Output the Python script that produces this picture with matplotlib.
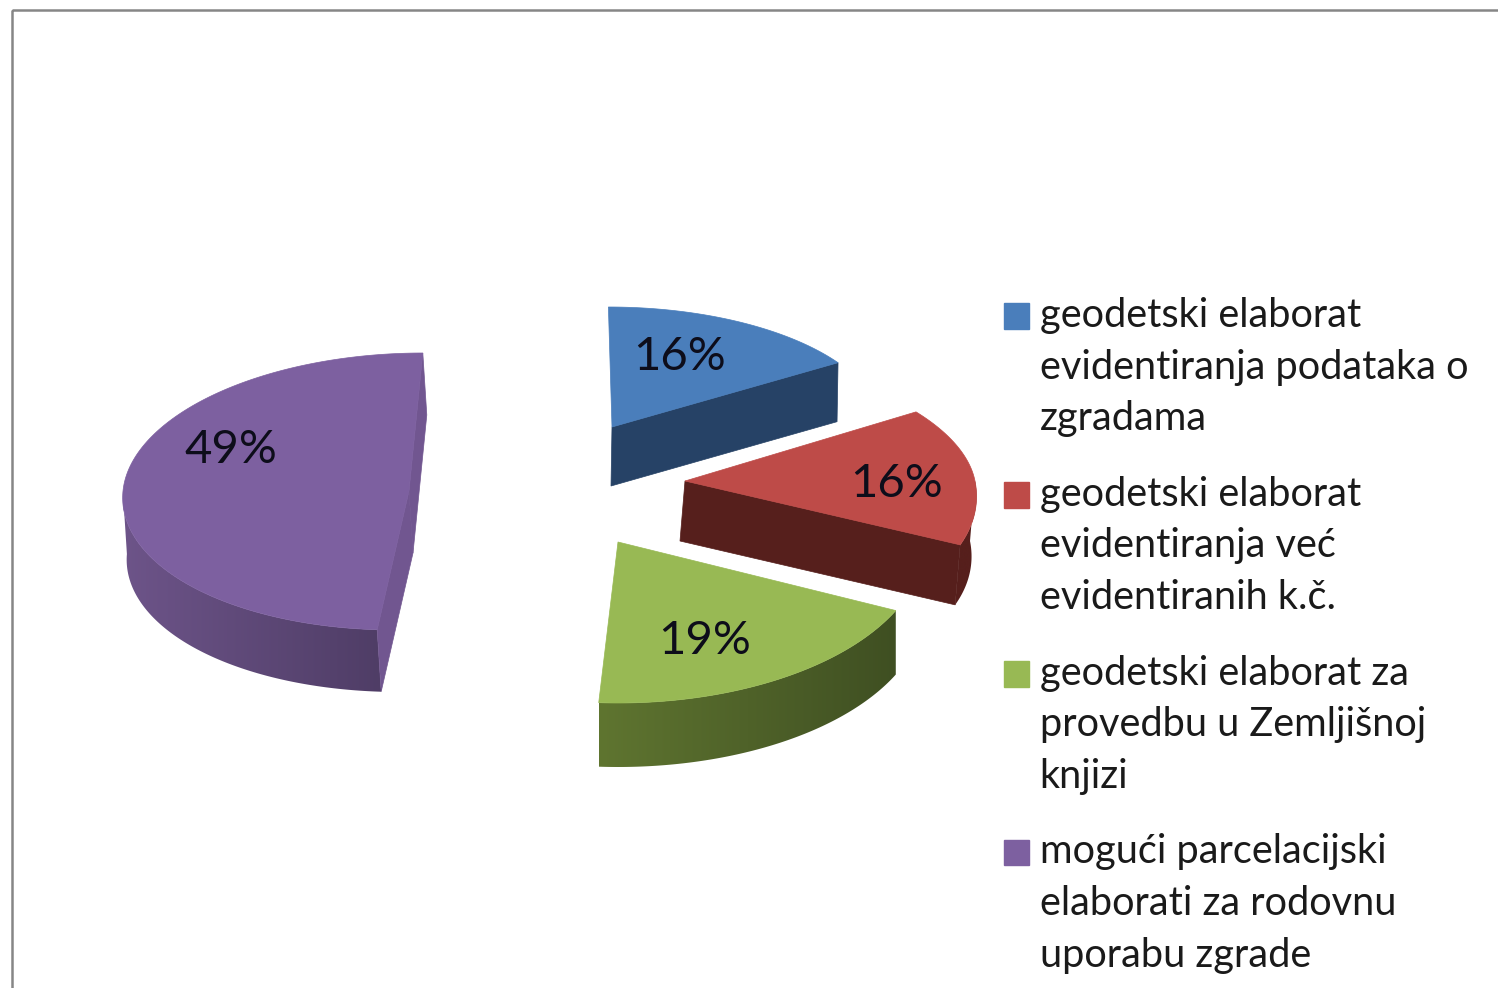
import matplotlib
matplotlib.use('Agg')
import matplotlib.pyplot as plt
import numpy as np
from matplotlib.colors import LinearSegmentedColormap
from matplotlib.legend_handler import HandlerPatch
from matplotlib.patches import Patch, Polygon, Rectangle

plt.rcParams['font.family'] = ['Lato', 'DejaVu Sans']

# Data
categories = [
    'geodetski elaborat\nevidentiranja podataka o\nzgradama',
    'geodetski elaborat\nevidentiranja već\nevidentiranih k.č.',
    'geodetski elaborat za\nprovedbu u Zemljišnoj\nknjizi',
    'mogući parcelacijski\nelaborati za rodovnu\nuporabu zgrade',
]
shares = [16, 16, 19, 49]

# Styles
top_colors = ['#4a7ebb', '#be4b48', '#98b954', '#7d60a0']
cut_colors = ['#264266', '#561f1c', '#4a5c28', '#715690']
wall_left = ['#264266', '#561f1c', '#5f7530', '#6d5489']
wall_right = ['#264266', '#561f1c', '#3f4f22', '#4f3d66']

# Layout in pixels: centre x, centre y, x radius, upper y radius, lower y radius, skew, wall dx, wall dy
wedge_geometry = [
    (612, 427, 270, 120, 120, 0.03, -1, 59),
    (685, 481, 290, 129, 150, 0.20, -5, 60),
    (618, 542, 307, 161, 161, 0.00, 0, 64),
    (409, 491, 286, 138, 139, -0.10, 4, 62),
]
label_positions = [(680, 357), (897, 484), (705, 641), (231, 450)]
# which cut faces face the viewer: 0 = start of the arc, -1 = end of the arc
visible_cuts = [[-1], [-1], [], [0, -1]]


def arc_points(geom, angles):
    cx, cy, rx, b_up, b_down, skew = geom[:6]
    dy = -np.cos(angles)
    dy = np.where(dy < 0, dy * b_up, dy * b_down)
    return np.column_stack([cx + rx * np.sin(angles) + skew * dy, cy + dy])


def raised_handle(legend, orig_handle, xdescent, ydescent, width, height, fontsize):
    # keep the square next to the first line of a three line label
    return Rectangle((-xdescent, -ydescent + 37.4), width, height)


fig = plt.figure(figsize=(14.98, 9.88), dpi=100)
ax = fig.add_axes([0, 0, 1, 1])

ax.add_patch(Rectangle((12, 10), 1600, 1100, fill=False, ec='#868686', lw=1.8))

edges = np.deg2rad(np.cumsum([0] + shares) * 3.6)

for i in range(len(shares)):
    geom = wedge_geometry[i]
    angles = np.linspace(edges[i], edges[i + 1], 200)
    arc = arc_points(geom, angles)
    apex = np.array(geom[:2], dtype=float)
    shift = np.array(geom[6:8], dtype=float)

    # curved side wall, only the front half of the arc shows
    front = arc[np.cos(angles) <= 0]
    if len(front) > 1:
        wall = np.vstack([front, (front + shift)[::-1]])
        x_min, x_max = wall[:, 0].min(), wall[:, 0].max()
        y_min, y_max = wall[:, 1].min(), wall[:, 1].max()
        cmap = LinearSegmentedColormap.from_list(f'wall{i}', [wall_left[i], wall_right[i]])
        im = ax.imshow(np.linspace(0, 1, 256).reshape(1, -1), cmap=cmap, aspect='auto',
                       extent=(x_min, x_max, y_max, y_min), zorder=1 + i * 3)
        clip = Polygon(wall, transform=ax.transData)
        im.set_clip_path(clip)

    # straight cut faces
    for k in visible_cuts[i]:
        corner = arc[k]
        face = [apex, corner, corner + shift, apex + shift]
        ax.add_patch(Polygon(face, fc=cut_colors[i], ec=cut_colors[i], lw=0.5, zorder=2 + i * 3))

    # top face
    top = np.vstack([apex, arc])
    ax.add_patch(Polygon(top, fc=top_colors[i], ec=top_colors[i], lw=0.5, zorder=3 + i * 3))

    ax.text(*label_positions[i], f'{shares[i]}%', fontsize=34, color='#0d0d1a',
            ha='center', va='center', zorder=20)

ax.set_xlim(0, 1498)
ax.set_ylim(988, 0)
ax.axis('off')

handles = [Patch(fc=c, ec=c) for c in top_colors]
leg = ax.legend(handles, categories, loc='upper left', bbox_to_anchor=(1004 / 1498, 1 - 297 / 988),
                bbox_transform=fig.transFigure, frameon=False, fontsize=28.6, borderpad=0,
                borderaxespad=0, handlelength=0.62, handleheight=0.62, handletextpad=0.28,
                labelspacing=0.975, labelcolor='#1a1a1a',
                handler_map={Patch: HandlerPatch(patch_func=raised_handle)})
for text in leg.get_texts():
    text.set_linespacing(1.485)

plt.savefig('out.png', dpi=100)
